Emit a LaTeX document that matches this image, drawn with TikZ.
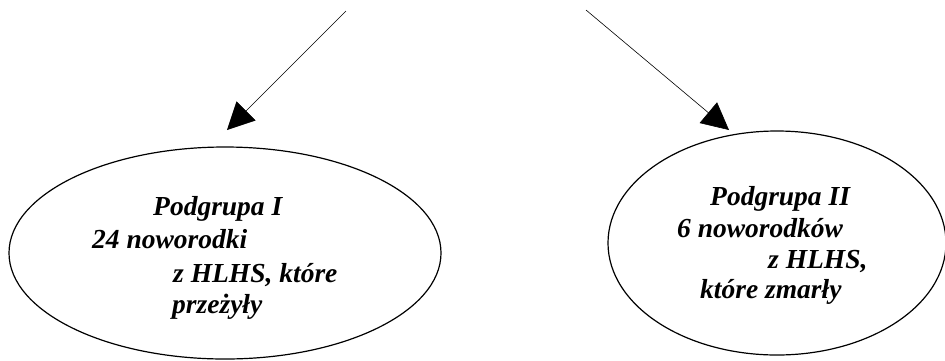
\documentclass[tikz,border=0pt]{standalone}
\usepackage{fontspec}
\setmainfont{Liberation Serif}
\usetikzlibrary{shapes.geometric,arrows.meta}
\tikzset{
  grp/.style={draw, ellipse, line width=1.2pt, inner sep=0pt},
  lbl/.style={anchor=base west, inner sep=0pt, font=\fontsize{27.5}{33}\selectfont\bfseries\itshape},
  arr/.style={line width=0.6pt, -{Triangle[length=27pt,width=27pt]}}
}
\begin{document}
\begin{tikzpicture}[x=1pt,y=-1pt]
\useasboundingbox (0,0) rectangle (945,360);
% ellipses
\node[grp, minimum width=432pt, minimum height=212pt] (e1) at (225,253) {};
\node[grp, minimum width=338pt, minimum height=224pt] (e2) at (777,243) {};
% left texts
\node[lbl] (l1) at (153,215) {Podgrupa I};
\node[lbl] (l2) at (92,248) {24 noworodki};
\node[lbl] (l3) at (173,282) {z HLHS, które};
\node[lbl] (l4) at (172,313) {przeżyły};
% right texts
\node[lbl] (r1) at (710,205) {Podgrupa II};
\node[lbl] (r2) at (677,237) {6 noworodków};
\node[lbl] (r3) at (768,268) {z HLHS,};
\node[lbl] (r4) at (700,298) {które zmarły};
% arrows
\coordinate (s1) at (346,11);
\coordinate (t1) at (227,130);
\coordinate (s2) at (586,10);
\coordinate (t2) at (729,130);
\draw[arr] (s1) -- (t1);
\draw[arr] (s2) -- (t2);
\end{tikzpicture}
\end{document}
